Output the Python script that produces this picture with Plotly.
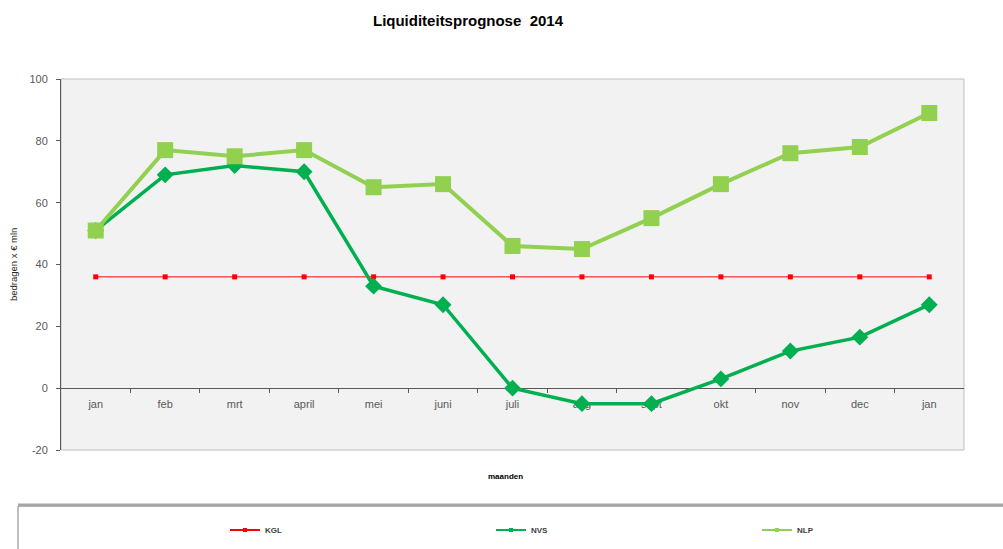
import plotly.graph_objects as go

# Liquidity forecast per month, amounts in € mln
maanden = ["jan", "feb", "mrt", "april", "mei", "juni", "juli",
           "aug", "sept", "okt", "nov", "dec", "jan"]
kgl = [36, 36, 36, 36, 36, 36, 36, 36, 36, 36, 36, 36, 36]
nvs = [51, 69, 72, 70, 33, 27, 0, -5, -5, 3, 12, 16.5, 27]
nlp = [51, 77, 75, 77, 65, 66, 46, 45, 55, 66, 76, 78, 89]
y_ticks = [-20, 0, 20, 40, 60, 80, 100]

x = list(range(len(maanden)))

# Pixel geometry of the page
W, H = 1003, 549
L, R, T, B = 61, 39, 79, 99
pw, ph = W - L - R, H - T - B


def px_x(p):
    return (p - L) / pw


def px_y(p):
    return (H - B - p) / ph


series = [
    dict(name="KGL", y=kgl, color="#ff0000", lw=1, sym="square", ms=5,
         legend="legend", lx=235),
    dict(name="NVS", y=nvs, color="#00b050", lw=3.5, sym="diamond", ms=13,
         legend="legend2", lx=501),
    dict(name="NLP", y=nlp, color="#92d050", lw=4, sym="square", ms=16,
         legend="legend3", lx=767),
]

fig = go.Figure()

# Data series (later series drawn on top)
for s in series:
    fig.add_trace(go.Scatter(
        x=x, y=s["y"], name=s["name"], mode="lines+markers",
        line=dict(color=s["color"], width=s["lw"]),
        marker=dict(symbol=s["sym"], size=s["ms"], color=s["color"]),
        showlegend=False,
    ))

# Legend entries with small glyphs
for s in series:
    fig.add_trace(go.Scatter(
        x=[None], y=[None], name="<b>" + s["name"] + "</b>",
        mode="lines+markers",
        line=dict(color=s["color"], width=2),
        marker=dict(symbol="square", size=4, color=s["color"]),
        legend=s["legend"], showlegend=True,
    ))

ymin, ymax = -20, 100
zero_pos = (0 - ymin) / (ymax - ymin)

legend_common = dict(
    orientation="h",
    yanchor="middle",
    y=px_y(530),
    xanchor="left",
    itemsizing="trace",
    itemwidth=30,
    bgcolor="rgba(0,0,0,0)",
    font=dict(size=8, color="#404040", family="Liberation Sans, Arial"),
)

fig.update_layout(
    width=W, height=H,
    margin=dict(l=L, r=R, t=T, b=B, autoexpand=False),
    paper_bgcolor="white",
    plot_bgcolor="#f2f2f2",
    font=dict(family="Liberation Sans, Arial, sans-serif", color="#404040"),
    title=dict(
        text="<b>Liquiditeitsprognose  2014</b>",
        x=468 / W, xanchor="center",
        y=1 - 21 / H, yanchor="middle",
        font=dict(size=15, color="#000000"),
    ),
    showlegend=True,
    legend=dict(legend_common, x=px_x(series[0]["lx"] - 10)),
    legend2=dict(legend_common, x=px_x(series[1]["lx"] - 10)),
    legend3=dict(legend_common, x=px_x(series[2]["lx"] - 10)),
    xaxis=dict(
        range=[-0.5, len(maanden) - 0.5],
        tickmode="array",
        tickvals=x,
        ticktext=maanden,
        ticks="outside",
        ticklen=6,
        tickcolor="rgba(0,0,0,0)",
        showgrid=False,
        zeroline=False,
        showline=True,
        linecolor="#595959",
        linewidth=1,
        anchor="free",
        position=zero_pos,
        tickfont=dict(size=11, color="#595959"),
        layer="below traces",
        minor=dict(
            tickmode="array",
            tickvals=[i + 0.5 for i in x[:-1]],
            ticks="outside",
            ticklen=4,
            tickcolor="#595959",
            showgrid=False,
        ),
    ),
    yaxis=dict(
        range=[ymin, ymax],
        tickmode="array",
        tickvals=y_ticks,
        ticktext=[str(v) for v in y_ticks],
        ticks="outside",
        ticklen=4,
        ticklabelstandoff=6,
        tickcolor="#595959",
        showgrid=False,
        zeroline=False,
        showline=True,
        linecolor="#595959",
        linewidth=1,
        tickfont=dict(size=11, color="#595959"),
    ),
)

# Plot area frame
fig.add_shape(type="rect", xref="paper", yref="paper",
              x0=0, x1=1, y0=0, y1=1,
              line=dict(color="#bfbfbf", width=1), layer="below")

# Axis titles
fig.add_annotation(text="bedragen x € mln", xref="paper", yref="paper",
                   x=px_x(13), y=px_y(265), xanchor="center",
                   showarrow=False, textangle=-90,
                   font=dict(size=9.5, color="#262626"))
fig.add_annotation(text="<b>maanden</b>", xref="paper", yref="paper",
                   x=px_x(505), y=px_y(483), showarrow=False,
                   font=dict(size=8, color="#000000"))

# Legend box
fig.add_shape(type="rect", xref="paper", yref="paper",
              x0=px_x(18), x1=px_x(1020), y0=px_y(506), y1=px_y(560),
              line=dict(color="#7f7f7f", width=1), fillcolor="white",
              layer="below")
fig.add_shape(type="line", xref="paper", yref="paper",
              x0=px_x(18), x1=px_x(1020), y0=px_y(505), y1=px_y(505),
              line=dict(color="#a6a6a6", width=3))

fig.write_html("out.html")
